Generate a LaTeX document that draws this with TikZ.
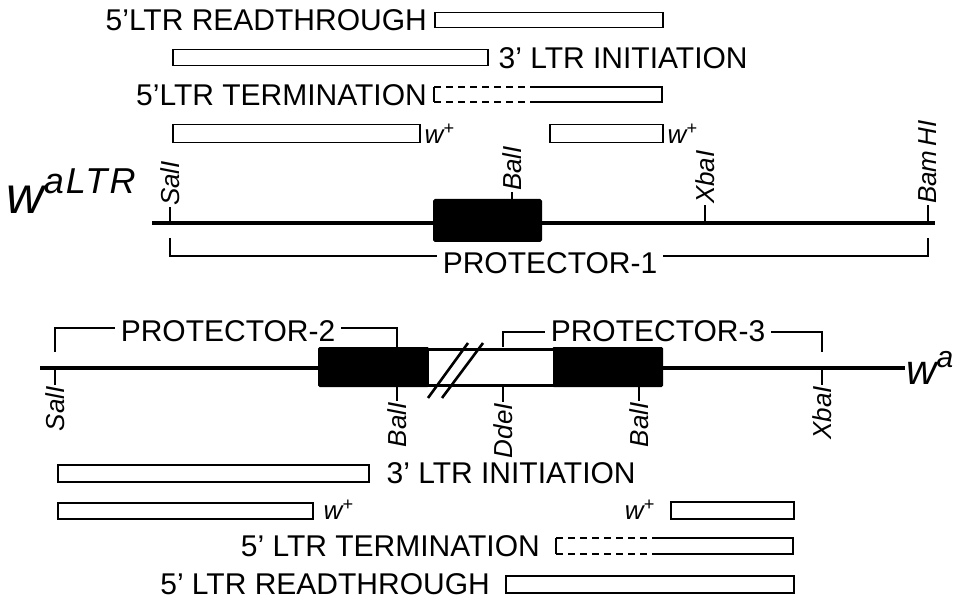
\documentclass[tikz,border=0pt]{standalone}
\usepackage{fontspec}
\setmainfont{Liberation Sans}
\begin{document}
\begin{tikzpicture}[x=1pt,y=-1pt,
  gene/.style={line width=4pt},
  frag/.style={draw,line width=1.5pt,fill=white,inner sep=0pt,anchor=north west},
  fragline/.style={line width=1.5pt},
  dashpart/.style={line width=1.5pt,dash pattern=on 7pt off 5pt},
  tick/.style={line width=1.6pt},
  brk/.style={line width=1.3pt},
  lbl/.style={font=\fontsize{30}{30}\selectfont,inner sep=0pt},
  plbl/.style={font=\fontsize{30}{30}\selectfont,fill=white,inner xsep=6pt,inner ysep=1pt},
  site/.style={font=\itshape\fontsize{26}{26}\selectfont,inner sep=1pt,rotate=90},
  wp/.style={font=\itshape\fontsize{26}{26}\selectfont,inner sep=0pt},
  blk/.style={fill=black,draw=black,line width=1pt,rounded corners=1.5pt},
]
\useasboundingbox (0,0) rectangle (959,604);

% ================= upper construct =================
% fragments
\node[frag,minimum width=228pt,minimum height=15pt] (r1) at (434,12) {};
\node[lbl,anchor=east] (t1) at ([xshift=-7pt]r1.west) {5'LTR READTHROUGH};
\node[frag,minimum width=315pt,minimum height=16pt] (r2) at (172,49) {};
\node[lbl,anchor=west] (t2) at ([xshift=10pt]r2.east) {3' LTR INITIATION};
\coordinate (r3) at (434,95);
\draw[fragline] (434,87) -- (434,102);
\draw[dashpart] (434,87) -- (537,87) (434,102) -- (537,102);
\draw[fragline] (537,87) -- (662,87) -- (662,102) -- (537,102);
\node[lbl,anchor=east] (t3) at ([xshift=-7pt]r3) {5'LTR TERMINATION};
\node[frag,minimum width=247pt,minimum height=18pt] (r4a) at (172,124) {};
\node[wp,anchor=base west] (w4a) at ([xshift=4pt]r4a.south east) {w\textsuperscript{+}};
\node[frag,minimum width=113pt,minimum height=18pt] (r4b) at (549,124) {};
\node[wp,anchor=base west] (w4b) at ([xshift=4pt]r4b.south east) {w\textsuperscript{+}};

% gene line
\coordinate (g1a) at (152,223);
\coordinate (g1b) at (935,223);
\draw[gene] (g1a) -- (g1b);
\node[blk,minimum width=108pt,minimum height=42pt,inner sep=0pt,anchor=north west] (b1) at (433,199) {};
\node[font=\itshape\fontsize{52}{52}\selectfont,anchor=base west,inner sep=0pt] (wltr) at (6,214)
  {w\raisebox{20pt}{\fontsize{36}{36}\selectfont\addfontfeature{LetterSpace=6}aLTR}};

% sites
\coordinate (s1) at (170,223); \coordinate (s1t) at (170,207);
\coordinate (s2) at (512,199); \coordinate (s2t) at (512,192);
\coordinate (s3) at (705,223); \coordinate (s3t) at (705,205);
\coordinate (s4) at (928,223); \coordinate (s4t) at (928,205);
\draw[tick] (s1) -- (s1t); \draw[tick] (s2) -- (s2t);
\draw[tick] (s3) -- (s3t); \draw[tick] (s4) -- (s4t);
\node[site,anchor=west] (l1) at (s1t) {SalI};
\node[site,anchor=west] (l2) at (s2t) {BalI};
\node[site,anchor=west] (l3) at (s3t) {XbaI};
\node[site,anchor=west] (l4) at (s4t) {Bam\,HI};

% protector-1
\draw[brk] (170,238) -- (170,256) -- (928,256) -- (928,238);
\node[plbl] (p1) at (550,263) {PROTECTOR-1};

% ================= lower construct =================
\coordinate (g2a) at (40,368);
\coordinate (g2b) at (905,368);
\draw[gene] (g2a) -- (g2b);
\fill[black,rounded corners=1.5pt] (318,347) rectangle (429,387);
\fill[black,rounded corners=1.5pt] (552,347) rectangle (663,387);
\draw[line width=3pt,fill=white] (427,349) rectangle (554,385.5);
\draw[line width=2.6pt] (428,398) -- (468,343);
\draw[line width=2.6pt] (442,398) -- (483,343);
\node[font=\itshape\fontsize{42}{42}\selectfont,anchor=base west,inner sep=0pt] (wa) at (906,384)
  {w\raisebox{17pt}{\fontsize{30}{30}\selectfont a}};

% sites
\coordinate (u1) at (55,368);  \coordinate (u1t) at (55,385);
\coordinate (u2) at (397,387); \coordinate (u2t) at (397,401);
\coordinate (u3) at (503,387); \coordinate (u3t) at (503,402);
\coordinate (u4) at (639,387); \coordinate (u4t) at (639,401);
\coordinate (u5) at (822,368); \coordinate (u5t) at (822,385);
\draw[tick] (u1) -- (u1t); \draw[tick] (u2) -- (u2t); \draw[tick] (u3) -- (u3t);
\draw[tick] (u4) -- (u4t); \draw[tick] (u5) -- (u5t);
\node[site,anchor=east] (m1) at (u1t) {SalI};
\node[site,anchor=east] (m2) at (u2t) {BalI};
\node[site,anchor=east] (m3) at (u3t) {DdeI};
\node[site,anchor=east] (m4) at (u4t) {BalI};
\node[site,anchor=east] (m5) at (u5t) {XbaI};

% protectors 2 and 3
\draw[brk] (55,352) -- (55,328) -- (397,328) -- (397,347);
\node[plbl] (p2) at (228,331) {PROTECTOR-2};
\draw[brk] (503,347) -- (503,332) -- (822,332) -- (822,352);
\node[plbl] (p3) at (658,331) {PROTECTOR-3};

% fragments
\node[frag,minimum width=311pt,minimum height=17pt] (ra) at (57,464) {};
\node[lbl,anchor=west] (ta) at ([xshift=17pt]ra.east) {3' LTR INITIATION};
\node[frag,minimum width=255pt,minimum height=16pt] (rb1) at (57,502) {};
\node[wp,anchor=base west] (wb1) at ([xshift=10pt]rb1.south east) {w\textsuperscript{+}};
\node[frag,minimum width=123pt,minimum height=17pt] (rb2) at (670,501) {};
\node[wp,anchor=base east] (wb2) at ([xshift=-15pt]rb2.south west) {w\textsuperscript{+}};
\coordinate (rc) at (556,546);
\draw[fragline] (556,538) -- (556,554);
\draw[dashpart] (556,538) -- (657,538) (556,554) -- (657,554);
\draw[fragline] (657,538) -- (793,538) -- (793,554) -- (657,554);
\node[lbl,anchor=east] (tc) at ([xshift=-16pt]rc) {5' LTR TERMINATION};
\node[frag,minimum width=288pt,minimum height=17pt] (rd) at (505,575) {};
\node[lbl,anchor=east] (td) at ([xshift=-15pt]rd.west) {5' LTR READTHROUGH};
\end{tikzpicture}
\end{document}
